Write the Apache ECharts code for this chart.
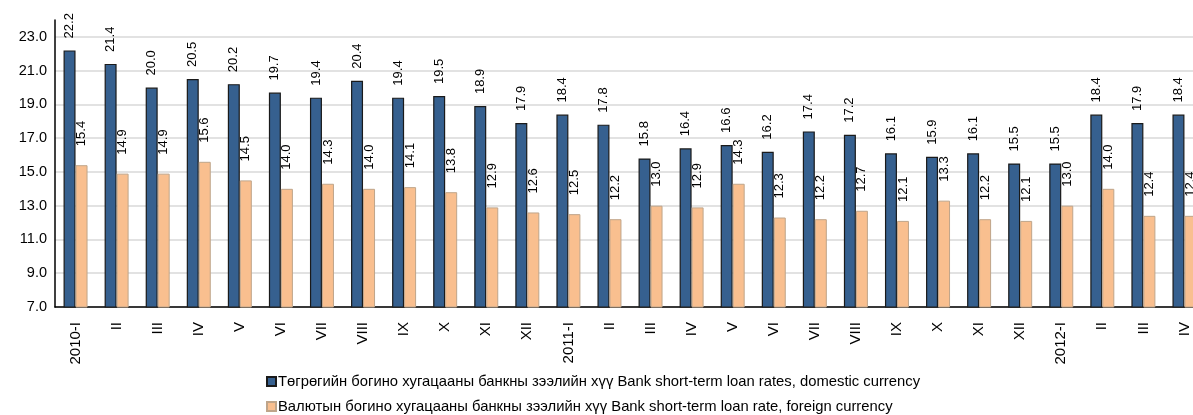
<!DOCTYPE html>
<html>
<head>
<meta charset="utf-8">
<script src="https://cdn.jsdelivr.net/npm/echarts@6/dist/echarts.min.js"></script>
<style>
  html, body { margin: 0; padding: 0; background: #fff; }
  #chart { width: 1193px; height: 415px; }
</style>
</head>
<body>
<div id="chart"></div>
<script>
const categories = [
  '2010-I', 'II', 'III', 'IV', 'V', 'VI', 'VII', 'VIII', 'IX', 'X', 'XI', 'XII',
  '2011-I', 'II', 'III', 'IV', 'V', 'VI', 'VII', 'VIII', 'IX', 'X', 'XI', 'XII',
  '2012-I', 'II', 'III', 'IV'
]
const domestic = [
  22.2, 21.4, 20.0, 20.5, 20.2, 19.7, 19.4, 20.4, 19.4, 19.5, 18.9, 17.9,
  18.4, 17.8, 15.8, 16.4, 16.6, 16.2, 17.4, 17.2, 16.1, 15.9, 16.1, 15.5,
  15.5, 18.4, 17.9, 18.4
]
const foreign = [
  15.4, 14.9, 14.9, 15.6, 14.5, 14.0, 14.3, 14.0, 14.1, 13.8, 12.9, 12.6,
  12.5, 12.2, 13.0, 12.9, 14.3, 12.3, 12.2, 12.7, 12.1, 13.3, 12.2, 12.1,
  13.0, 14.0, 12.4, 12.4
]
const seriesNames = [
  'Төгрөгийн богино хугацааны банкны зээлийн хүү Bank short-term loan rates, domestic currency',
  'Валютын богино хугацааны банкны зээлийн хүү Bank short-term loan rate, foreign currency'
]

const font = 'Liberation Sans, Arial, sans-serif'
const chart = echarts.init(document.getElementById('chart'))

// подпись над столбцом, повернута на 90
const barLabel = (offsetX) => ({
  show: true,
  position: 'top',
  rotate: 90,
  align: 'left',
  verticalAlign: 'middle',
  distance: 12,
  offset: [offsetX, 0],
  color: '#000',
  fontFamily: font,
  fontSize: 13,
  formatter: p => p.value.toFixed(1)
})

// одна строка легенды
const legendRow = (name, top) => ({
  left: 261,
  top: top,
  itemWidth: 9,
  itemHeight: 9,
  icon: 'rect',
  textStyle: { fontFamily: font, fontSize: 14.8, color: '#000', padding: [0, 0, 0, -3] },
  data: [name]
})

chart.setOption({
  animation: false,
  textStyle: { fontFamily: font },
  grid: { left: 55, right: -12, top: 20, bottom: 108, outerBoundsMode: 'none' },
  legend: [
    legendRow(seriesNames[0], 369),
    legendRow(seriesNames[1], 394)
  ],
  xAxis: {
    type: 'category',
    data: categories,
    axisLine: { lineStyle: { color: '#000', width: 1.5 } },
    axisTick: { length: 5, lineStyle: { color: '#999' } },
    axisLabel: {
      rotate: 90,
      margin: 15,
      interval: 0,
      color: '#000',
      fontFamily: font,
      fontSize: 15
    }
  },
  yAxis: {
    type: 'value',
    min: 7,
    max: 24,
    interval: 2,
    axisLine: { show: true, lineStyle: { color: '#000', width: 1.5 } },
    axisTick: { show: false },
    axisLabel: {
      showMaxLabel: false,
      margin: 8,
      color: '#000',
      fontFamily: font,
      fontSize: 14.5,
      formatter: v => v.toFixed(1)
    },
    splitLine: { showMaxLine: false, lineStyle: { color: '#d9d9d9', width: 1.5 } }
  },
  series: [
    {
      name: seriesNames[0],
      type: 'bar',
      data: domestic,
      barWidth: 12,
      barGap: '0%',
      itemStyle: { color: '#36608f', borderColor: '#1a1a1a', borderWidth: 1.2 },
      label: barLabel(0)
    },
    {
      name: seriesNames[1],
      type: 'bar',
      data: foreign,
      barWidth: 12,
      barGap: '0%',
      itemStyle: { color: '#f9bf8f', borderColor: '#bfa58a', borderWidth: 1 },
      label: barLabel(7)
    }
  ]
})
</script>
</body>
</html>
